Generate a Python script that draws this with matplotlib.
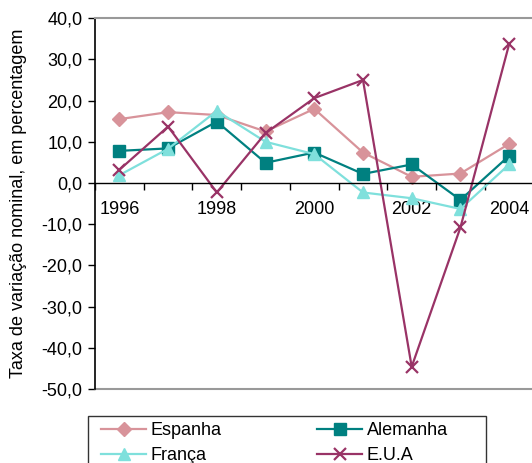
import matplotlib
matplotlib.use("Agg")
import matplotlib.pyplot as plt
from matplotlib.ticker import FuncFormatter, FixedLocator
from matplotlib.patches import Rectangle

plt.rcParams['font.family'] = ['Liberation Sans', 'DejaVu Sans']

years = [1996, 1997, 1998, 1999, 2000, 2001, 2002, 2003, 2004]
espanha = [15.5, 17.2, 16.5, 12.5, 18.0, 7.4, 1.5, 2.3, 9.5]
alemanha = [7.8, 8.4, 14.9, 4.9, 7.4, 2.2, 4.5, -4.1, 6.6]
franca = [1.9, 8.3, 17.5, 10.0, 7.0, -2.3, -3.7, -6.3, 4.5]
eua = [3.2, 13.7, -2.3, 12.1, 20.6, 25.0, -44.6, -10.8, 33.7]
year_labels = ['1996', '1998', '2000', '2002', '2004']

W, H = 532, 463
fig = plt.figure(figsize=(W/100, H/100), dpi=100)
ax = fig.add_axes([95/W, 1-389/H, (533.5-95)/W, (389-18.2)/H])

x = list(range(len(years)))
l1, = ax.plot(x, espanha, color='#D8939A', lw=1.6, marker='D', ms=7.5, label='Espanha', clip_on=False)
l2, = ax.plot(x, alemanha, color='#008080', lw=1.6, marker='s', ms=8.5, label='Alemanha', clip_on=False)
l3, = ax.plot(x, franca, color='#7FE0DC', lw=1.6, marker='^', ms=8.5, label='França', clip_on=False)
l4, = ax.plot(x, eua, color='#993366', lw=1.6, marker='x', ms=8, mew=1.6, label='E.U.A', clip_on=False)

ax.set_xlim(-0.5, len(years) - 0.5)
ax.set_ylim(-50, 40)
ax.set_yticks(range(-50, 41, 10))
ax.yaxis.set_major_formatter(FuncFormatter(lambda v, p: f"{v:.1f}".replace('.', ',')))
ax.tick_params(axis='y', direction='out', length=5, width=1, labelsize=13, pad=4, colors='black')

# x axis crossing at zero, ticks between categories
ax.spines['bottom'].set_position(('data', 0))
ax.spines['bottom'].set_color('black')
ax.spines['bottom'].set_linewidth(1)
ax.xaxis.set_major_locator(FixedLocator([i - 0.5 for i in range(len(years) + 1)]))
ax.xaxis.set_minor_locator(FixedLocator([0, 2, 4, 6, 8]))
ax.xaxis.set_minor_formatter(FuncFormatter(lambda v, p: year_labels[int(round(v)) // 2]))
ax.xaxis.set_major_formatter(FuncFormatter(lambda v, p: ''))
ax.tick_params(axis='x', which='major', direction='out', length=5, width=1)
ax.tick_params(axis='x', which='minor', length=0, labelsize=13, pad=13)

ax.spines['left'].set_color('black')
ax.spines['left'].set_linewidth(1.2)
ax.spines['top'].set_color('#999999')
ax.spines['top'].set_linewidth(1.5)
ax.spines['right'].set_visible(False)
ax.axhline(-50, color='#999999', lw=1.5, clip_on=False)

ax.set_ylabel('Taxa de variação nominal, em percentagem', fontsize=13)
ax.yaxis.set_label_coords((27 - 95) / (533.5 - 95), 0.5)

# legend frame
fig.patches.append(Rectangle((88/W, 1-475/H), (486-88)/W, (475-416)/H,
                             transform=fig.transFigure, fill=False,
                             edgecolor='#333333', lw=1))
leg = fig.legend(handles=[l1, l3, l2, l4], loc='upper left', bbox_to_anchor=(101/W, 1-422/H),
                 ncol=2, fontsize=13, frameon=False, handlelength=2.5,
                 handletextpad=0.25, columnspacing=5.3, borderpad=0, labelspacing=0.45,
                 borderaxespad=0)

fig.savefig('out.png', dpi=100)
